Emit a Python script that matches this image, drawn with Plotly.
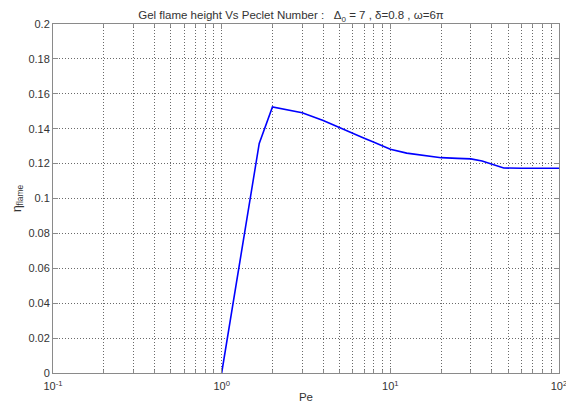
import plotly.graph_objects as go

pe = [1, 1.67, 2, 3, 4, 5, 6, 7, 8, 9, 10, 12.5, 15, 20, 25, 30, 35, 40, 47, 60, 100]
eta = [0, 0.1316, 0.1525, 0.1492, 0.1447, 0.1405, 0.1372, 0.1345, 0.1322, 0.1300, 0.1282,
       0.1260, 0.1249, 0.1234, 0.1230, 0.1227, 0.1215, 0.1198, 0.1175, 0.1173, 0.1173]

x_major = [0.1, 1, 10, 100]
x_major_text = ["10<sup>-1</sup>", "10<sup>0</sup>", "10<sup>1</sup>", "10<sup>2</sup>"]
x_minor = [m * d for d in (0.1, 1, 10) for m in range(2, 10)]
y_ticks = [0, 0.02, 0.04, 0.06, 0.08, 0.1, 0.12, 0.14, 0.16, 0.18, 0.2]
y_text = ["0", "0.02", "0.04", "0.06", "0.08", "0.1", "0.12", "0.14", "0.16", "0.18", "0.2"]

FONT = "Liberation Sans, Arial, sans-serif"
GRID = "#6a6a6a"
AX = "#8a8a8a"
TXT = "#333333"

fig = go.Figure()
fig.add_trace(go.Scatter(x=pe, y=eta, mode="lines",
                         line=dict(color="#0000ff", width=1.6), showlegend=False))

# page body adds an 8px offset, so the figure is sized to fit the window
fig.update_layout(
    width=566, height=398,
    margin=dict(l=45, r=15, t=16, b=33, autoexpand=False),
    paper_bgcolor="white", plot_bgcolor="white",
    font=dict(family=FONT, size=11, color=TXT),
    title=dict(text="Gel flame height Vs Peclet Number :   Δ<sub>0</sub> = 7 , δ=0.8 , ω=6π",
               x=0.5, xanchor="center", y=0.982, yanchor="middle",
               font=dict(family=FONT, size=11.5, color=TXT)),
)
fig.update_xaxes(
    type="log", range=[-1, 2], automargin=False,
    tickmode="array", tickvals=x_major, ticktext=x_major_text,
    ticks="inside", ticklen=5, tickcolor=AX,
    ticklabeloverflow="allow", ticklabelstandoff=3,
    showline=True, linecolor=AX, linewidth=1, mirror="ticks",
    showgrid=True, gridcolor=GRID, griddash="1px,2px", gridwidth=1,
    minor=dict(tickvals=x_minor, ticks="inside", ticklen=3, tickcolor=AX,
               showgrid=True, gridcolor=GRID, griddash="1px,2px", gridwidth=1),
    zeroline=False,
    title=dict(text="Pe", standoff=1, font=dict(family=FONT, size=11.5, color=TXT)),
)
fig.update_yaxes(
    range=[0, 0.2], automargin=False,
    tickmode="array", tickvals=y_ticks, ticktext=y_text,
    ticks="inside", ticklen=5, tickcolor=AX,
    showline=True, linecolor=AX, linewidth=1, mirror="ticks",
    showgrid=True, gridcolor=GRID, griddash="1px,2px", gridwidth=1,
    zeroline=False,
    title=dict(text="η<sub>flame</sub>", standoff=4, font=dict(family=FONT, size=12, color=TXT)),
)

fig.write_html("out.html")
